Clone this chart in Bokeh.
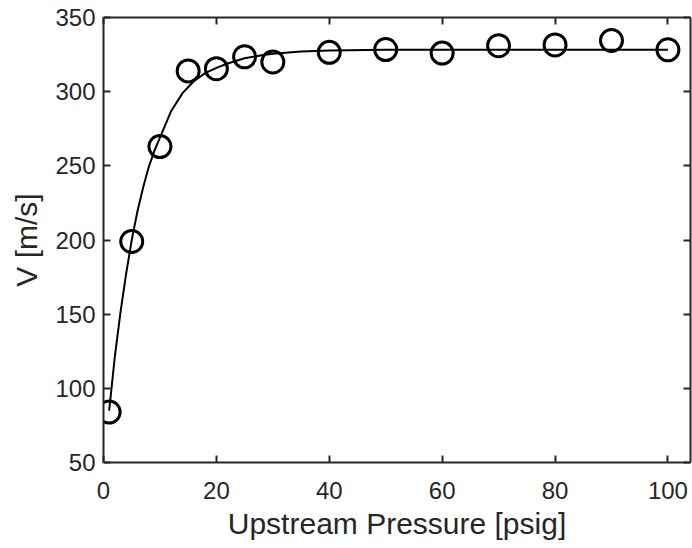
from bokeh.plotting import figure
from bokeh.models import LinearAxis, Range1d, FixedTicker
from bokeh.embed import file_html
from bokeh.resources import INLINE

pressure = [1, 5, 10, 15, 20, 25, 30, 40, 50, 60, 70, 80, 90, 100]
velocity = [84, 199, 263, 314, 315.5, 323.5, 320, 326.5, 328.4, 326, 331, 331.5, 334.5, 328.2]

# fitted curve
fit_p = [1, 2, 3, 4, 5, 6, 7, 8, 9, 10, 12, 14, 16, 18, 20, 22, 25, 28, 30, 35, 40, 50, 60, 70, 80, 90, 100]
fit_v = [85, 121, 151, 177, 200, 219, 235, 249, 260, 269, 287, 299, 307, 312.5, 316, 319, 322.5, 324.5, 325.5, 327, 327.8, 328.2, 328.2, 328.2, 328.2, 328.2, 328.2]

x_ticks = [0, 20, 40, 60, 80, 100]
y_ticks = [50, 100, 150, 200, 250, 300, 350]

FONT = "Liberation Sans"
DARK = "#262626"

p = figure(width=692, height=548, output_backend="svg", toolbar_location=None,
           x_range=Range1d(0, 104), y_range=Range1d(50, 350),
           min_border_left=103, min_border_right=2, min_border_top=17, min_border_bottom=86)
p.outline_line_color = None
p.grid.visible = False
p.background_fill_color = "white"
p.border_fill_color = "white"

p.line(fit_p, fit_v, line_color="black", line_width=2)
p.scatter(pressure, velocity, marker="circle", size=22, fill_color=None,
          line_color="black", line_width=3)

def style(ax, ticks, show_labels=True):
    ax.ticker = FixedTicker(ticks=ticks)
    ax.axis_line_color = DARK
    ax.axis_line_width = 2
    ax.major_tick_line_color = DARK
    ax.major_tick_line_width = 2
    ax.major_tick_in = 7
    ax.major_tick_out = 0
    ax.minor_tick_line_color = None
    ax.major_label_text_font = FONT
    ax.major_label_text_color = DARK
    ax.axis_label_text_font = FONT
    ax.axis_label_text_color = DARK
    ax.axis_label_text_font_style = "normal"
    ax.major_label_text_font_size = "24px"
    ax.axis_label_text_font_size = "30px"
    if not show_labels:
        ax.major_label_overrides = {t: "" for t in ticks}
        ax.major_label_standoff = 0

xa = p.xaxis[0]
ya = p.yaxis[0]
style(xa, x_ticks)
style(ya, y_ticks)
xa.axis_label = "Upstream Pressure [psig]"
ya.axis_label = "V [m/s]"
xa.major_label_standoff = 19
ya.major_label_standoff = 8
xa.axis_label_standoff = 5
ya.axis_label_standoff = 9

top = LinearAxis()
right = LinearAxis()
style(top, x_ticks, False)
style(right, y_ticks, False)
p.add_layout(top, "above")
p.add_layout(right, "right")

open("out.html", "w").write(file_html(p, INLINE))
